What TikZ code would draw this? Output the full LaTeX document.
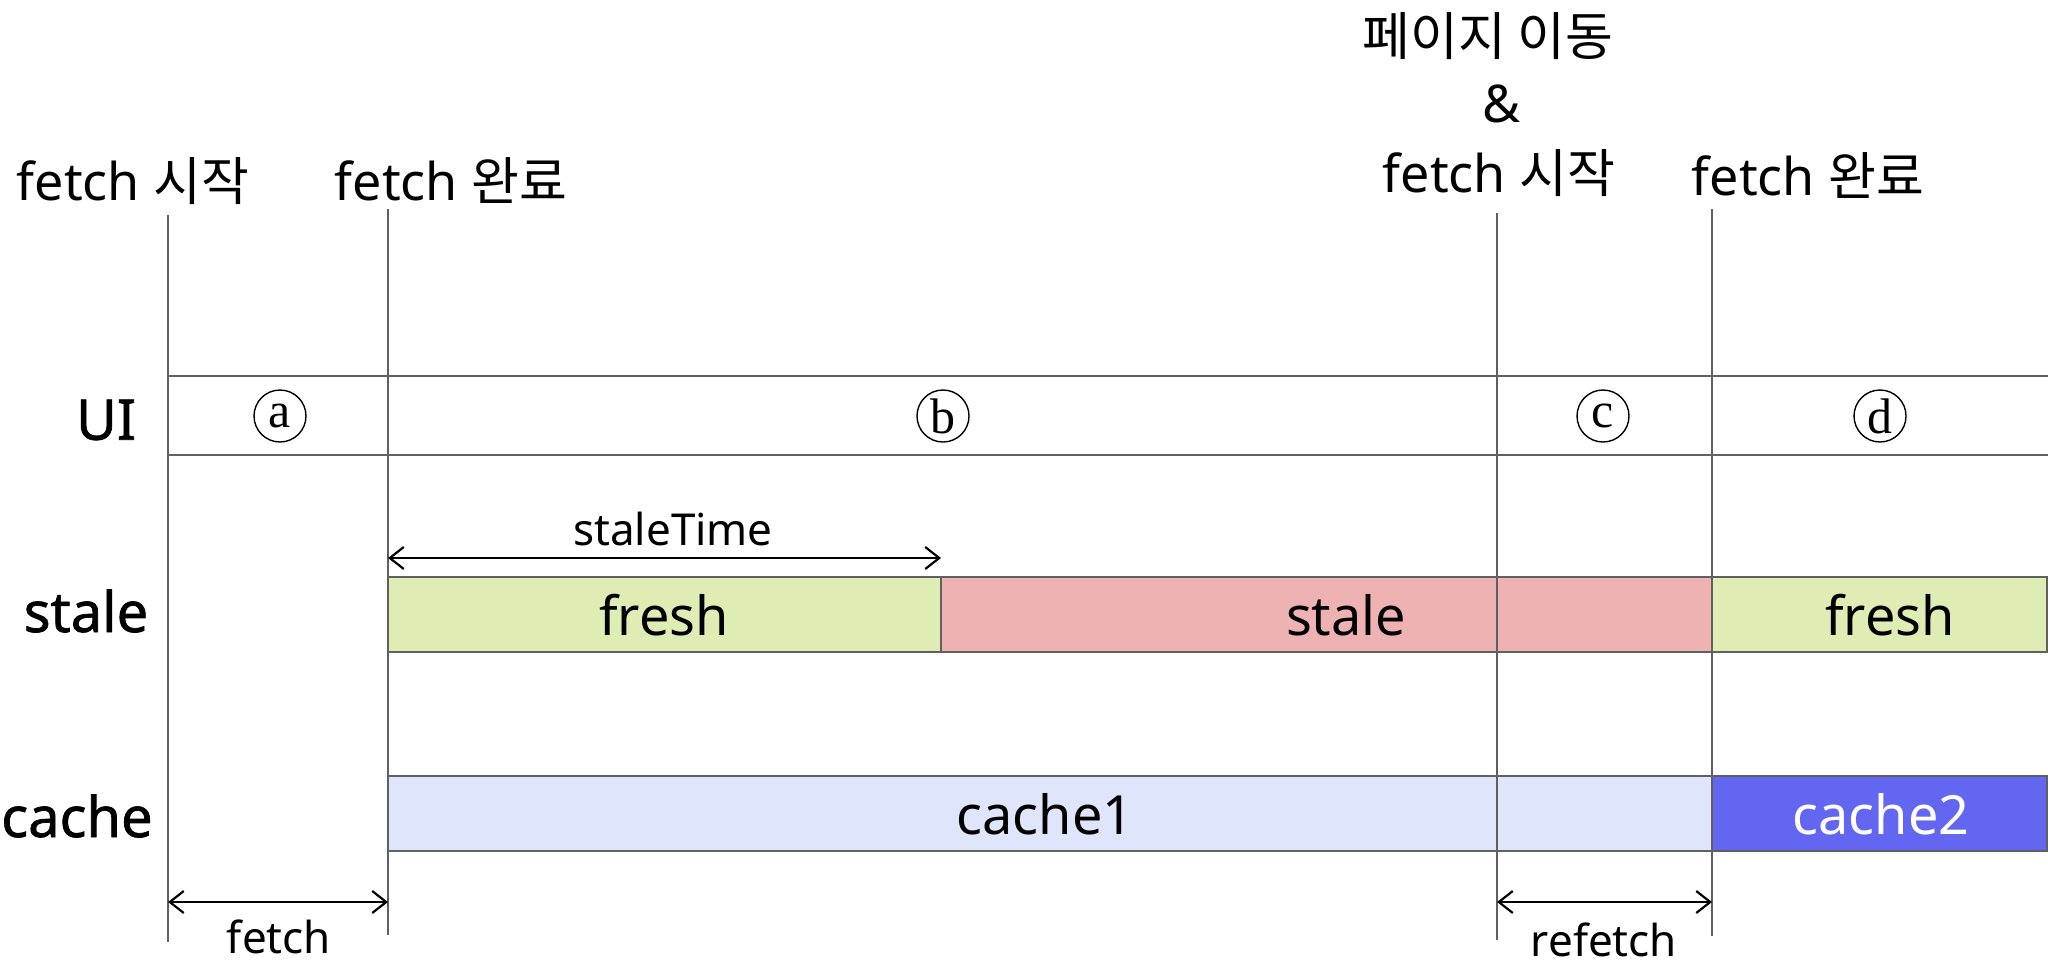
\documentclass[tikz,border=0pt]{standalone}
\usepackage{fontspec}
\setmainfont{Noto Sans}
\newfontfamily\kr{Noto Sans CJK KR}
\newfontfamily\rowf[FakeBold=1.2]{Noto Sans}
\newfontfamily\serif{Liberation Serif}
\usetikzlibrary{arrows.meta}
\definecolor{freshc}{HTML}{DEEDB4}
\definecolor{stalec}{HTML}{EFB2B2}
\definecolor{cacheA}{HTML}{DFE6FB}
\definecolor{cacheB}{HTML}{6366F0}
\definecolor{linec}{HTML}{606060}
\begin{document}
\begin{tikzpicture}[x=0.5pt,y=-0.5pt,
  vline/.style={draw=linec,line width=0.7pt},
  hline/.style={draw=linec,line width=0.8pt},
  band/.style={draw=linec,line width=0.7pt},
  toplabel/.style={anchor=base,inner sep=0,font=\fontsize{26}{30}\selectfont},
  rowlabel/.style={inner sep=0,font=\rowf\fontsize{28}{32}\selectfont},
  bandtext/.style={inner sep=0,font=\fontsize{27}{30}\selectfont},
  smalllabel/.style={anchor=base,inner sep=0,font=\fontsize{22}{26}\selectfont},
  circ/.style={circle,draw,line width=0.7pt,minimum size=26pt,inner sep=0,font=\serif\fontsize{25}{25}\selectfont},
  dim/.style={line width=1.1pt,{Straight Barb[length=7pt,width=11pt]}-{Straight Barb[length=7pt,width=11pt]}}
]
\useasboundingbox (0,0) rectangle (2048,970);

% bands
\draw[band,fill=freshc] (388,577) rectangle (941,652);
\draw[band,fill=stalec] (941,577) rectangle (1712,652);
\draw[band,fill=freshc] (1712,577) rectangle (2047,652);
\draw[band,fill=cacheA] (388,776) rectangle (1712,851);
\draw[band,fill=cacheB] (1712,776) rectangle (2047,851);

% UI band lines
\coordinate (uitl) at (168,376);
\coordinate (uitr) at (2048,376);
\coordinate (uibl) at (168,455);
\coordinate (uibr) at (2048,455);
\draw[hline] (uitl) -- (uitr);
\draw[hline] (uibl) -- (uibr);

% vertical lines
\coordinate (v1t) at (168,215); \coordinate (v1b) at (168,942);
\coordinate (v2t) at (388,209); \coordinate (v2b) at (388,935);
\coordinate (v3t) at (1497,213); \coordinate (v3b) at (1497,940);
\coordinate (v4t) at (1712,209); \coordinate (v4b) at (1712,936);
\draw[vline] (v1t) -- (v1b);
\draw[vline] (v2t) -- (v2b);
\draw[vline] (v3t) -- (v3b);
\draw[vline] (v4t) -- (v4b);

% top labels
\node[toplabel] (fs1) at (133,200) {fetch {\kr 시작}};
\node[toplabel] (fd1) at (451,200) {fetch {\kr 완료}};
\node[toplabel] (pm) at (1488,55) {\kr 페이지 이동};
\node[toplabel] (amp) at (1502,122) {\&};
\node[toplabel] (fs2) at (1499,192) {fetch {\kr 시작}};
\node[toplabel] (fd2) at (1808,195) {fetch {\kr 완료}};

% row labels
\node[rowlabel] (rui) at (106,420) {UI};
\node[rowlabel] (rstale) at (86,611) {stale};
\node[rowlabel] (rcache) at (77,816) {cache};

% circled markers
\node[circ] (ca) at (280,416) {a};
\node[circ] (cb) at (943,416) {b};
\node[circ] (cc) at (1603,416) {c};
\node[circ] (cd) at (1880,416) {d};

% band texts
\node[bandtext] (tf1) at (664,615) {fresh};
\node[bandtext] (ts) at (1346,615) {stale};
\node[bandtext] (tf2) at (1890,615) {fresh};
\node[bandtext] (tc1) at (1045,814) {cache1};
\node[bandtext,text=white] (tc2) at (1881,814) {cache2};

% dimension arrows
\coordinate (sa) at (388,558); \coordinate (sb) at (941,558);
\draw[dim] (sa) -- (sb);
\node[smalllabel] (lst) at (673,545) {staleTime};
\coordinate (fa) at (168,902); \coordinate (fb) at (388,902);
\draw[dim] (fa) -- (fb);
\node[smalllabel] (lf) at (279,953) {fetch};
\coordinate (ra) at (1497,902); \coordinate (rb) at (1712,902);
\draw[dim] (ra) -- (rb);
\node[smalllabel] (lr) at (1604,956) {refetch};
\end{tikzpicture}
\end{document}
